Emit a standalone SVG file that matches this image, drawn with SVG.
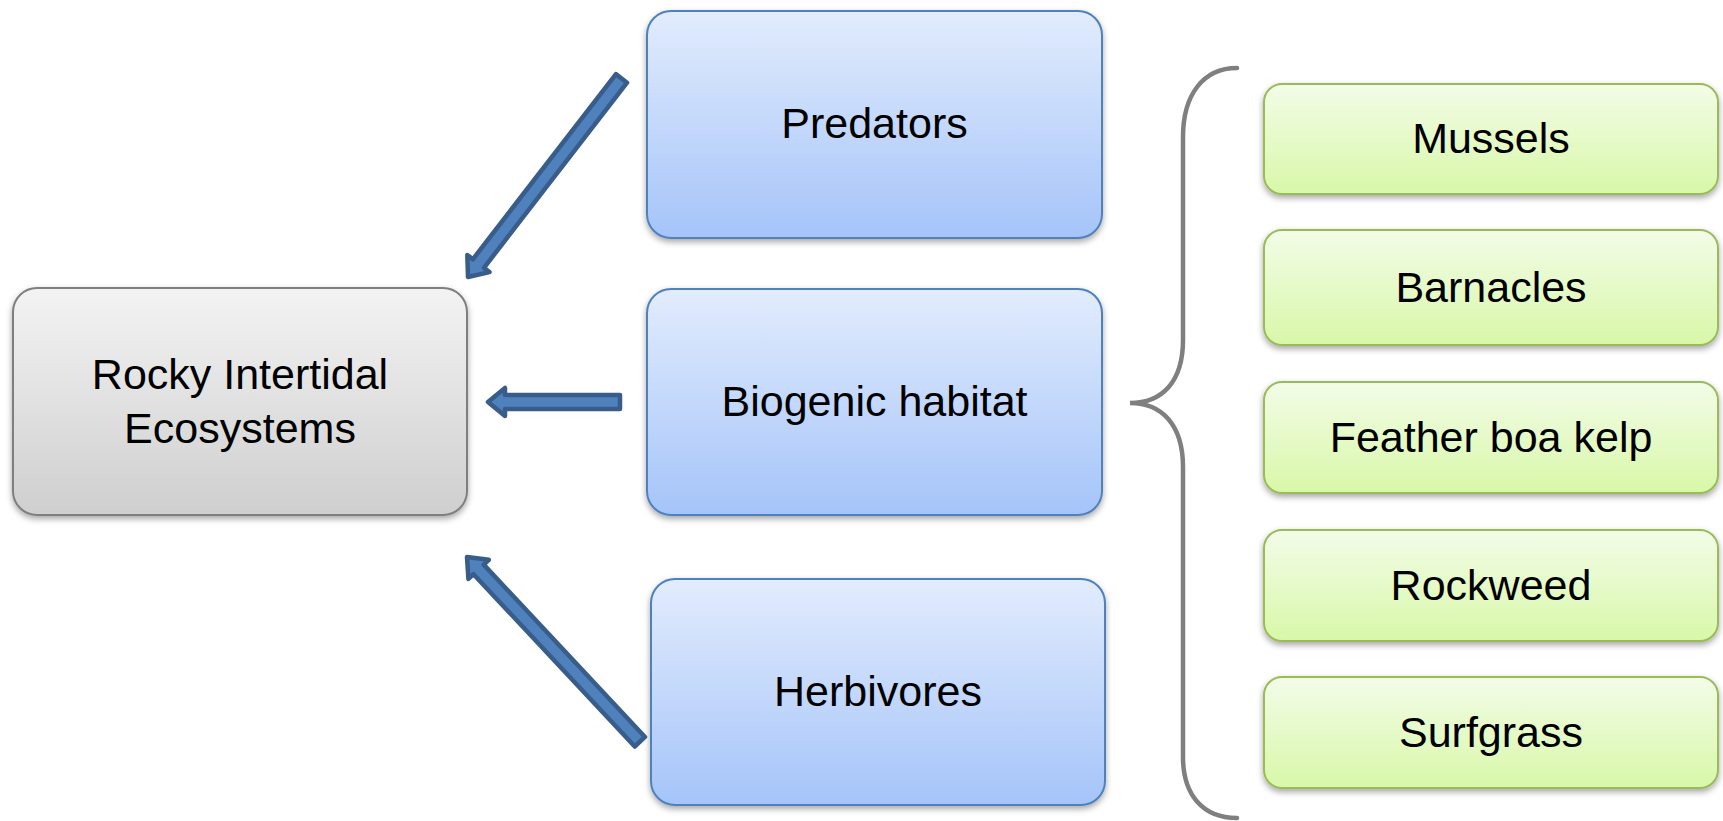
<svg xmlns="http://www.w3.org/2000/svg" width="1723" height="821" viewBox="0 0 1723 821">
  <defs>
    <linearGradient id="gBlue" x1="0" y1="0" x2="0" y2="1">
      <stop offset="0" stop-color="#e2ecfd"/>
      <stop offset="1" stop-color="#a5c4f9"/>
    </linearGradient>
    <linearGradient id="gGreen" x1="0" y1="0" x2="0" y2="1">
      <stop offset="0" stop-color="#f3fce8"/>
      <stop offset="1" stop-color="#d8f8a8"/>
    </linearGradient>
    <linearGradient id="gGray" x1="0" y1="0" x2="0" y2="1">
      <stop offset="0" stop-color="#f3f3f3"/>
      <stop offset="1" stop-color="#cfcfcf"/>
    </linearGradient>
    <filter id="shadow" x="-10%" y="-10%" width="120%" height="130%">
      <feDropShadow dx="0" dy="3" stdDeviation="3" flood-color="#000" flood-opacity="0.35"/>
    </filter>
  </defs>
  <style>
    .blue { fill: url(#gBlue); stroke: #4f81bd; stroke-width: 2; filter: url(#shadow); }
    .green { fill: url(#gGreen); stroke: #9bbb59; stroke-width: 2; filter: url(#shadow); }
    .gray { fill: url(#gGray); stroke: #7f7f7f; stroke-width: 2; filter: url(#shadow); }
    .lbl { font-family: "Liberation Sans", Arial, sans-serif; font-size: 43px; fill: #000; text-anchor: middle; }
    .arrow { fill: #4f81bd; stroke: #385d8a; stroke-width: 4.5; stroke-linejoin: round; }
    .brace { fill: none; stroke: #7f7f7f; stroke-width: 4.5; stroke-linecap: round; }
  </style>

  <rect width="1723" height="821" fill="#ffffff"/>

  <!-- connectors -->
  <g id="connectors">
    <!-- block arrows, drawn pointing left from the origin then rotated -->
    <path class="arrow" transform="translate(468,277) rotate(-52.3)" d="M0,0 L17,-14 L17,-7 L251,-7 L251,7 L17,7 L17,14 Z"/>
    <path class="arrow" transform="translate(488,402)" d="M0,0 L17,-14 L17,-7 L132,-7 L132,7 L17,7 L17,14 Z"/>
    <path class="arrow" transform="translate(467,557) rotate(46.9)" d="M0,0 L17,-14 L17,-7 L253,-7 L253,7 L17,7 L17,14 Z"/>
    <!-- curly brace grouping the habitat-forming species -->
    <path class="brace" d="M1237,68 C1203,68 1183,95 1183,137 L1183,340 C1183,382 1162,403 1130,403 C1162,403 1183,425 1183,467 L1183,757 C1183,795 1203,818 1237,818"/>
  </g>

  <g id="node-ecosystems">
    <rect class="gray" x="13" y="288" width="454" height="227" rx="24"/>
    <text class="lbl" x="240" y="389">Rocky Intertidal</text>
    <text class="lbl" x="240" y="443">Ecosystems</text>
  </g>

  <g id="node-predators">
    <rect class="blue" x="647" y="11" width="455" height="227" rx="24"/>
    <text class="lbl" x="874.5" y="138">Predators</text>
  </g>

  <g id="node-biogenic">
    <rect class="blue" x="647" y="289" width="455" height="226" rx="24"/>
    <text class="lbl" x="874.5" y="416">Biogenic habitat</text>
  </g>

  <g id="node-herbivores">
    <rect class="blue" x="651" y="579" width="454" height="226" rx="24"/>
    <text class="lbl" x="878" y="706">Herbivores</text>
  </g>

  <g id="node-mussels">
    <rect class="green" x="1264" y="84" width="454" height="110" rx="18"/>
    <text class="lbl" x="1491" y="153">Mussels</text>
  </g>

  <g id="node-barnacles">
    <rect class="green" x="1264" y="230" width="454" height="115" rx="18"/>
    <text class="lbl" x="1491" y="302">Barnacles</text>
  </g>

  <g id="node-feather-boa-kelp">
    <rect class="green" x="1264" y="382" width="454" height="111" rx="18"/>
    <text class="lbl" x="1491" y="452">Feather boa kelp</text>
  </g>

  <g id="node-rockweed">
    <rect class="green" x="1264" y="530" width="454" height="111" rx="18"/>
    <text class="lbl" x="1491" y="600">Rockweed</text>
  </g>

  <g id="node-surfgrass">
    <rect class="green" x="1264" y="677" width="454" height="111" rx="18"/>
    <text class="lbl" x="1491" y="747">Surfgrass</text>
  </g>
</svg>
